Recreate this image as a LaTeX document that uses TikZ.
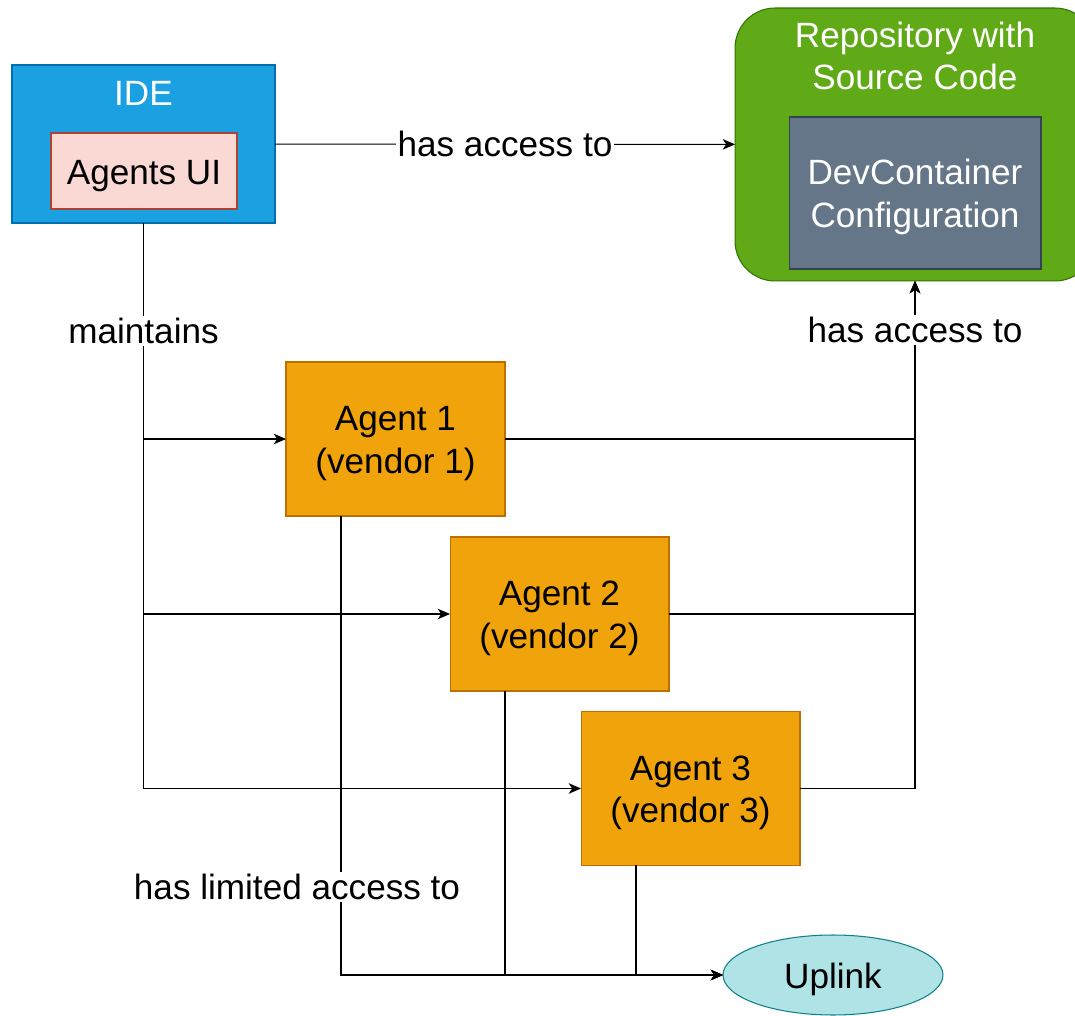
\documentclass[tikz,border=0pt]{standalone}
\usepackage{fontspec}
\setmainfont{Liberation Sans}
\usetikzlibrary{arrows.meta, positioning, shapes.geometric}

\definecolor{ideblue}{HTML}{1BA1E2}
\definecolor{ideline}{HTML}{006EAF}
\definecolor{uipink}{HTML}{FAD9D5}
\definecolor{uiline}{HTML}{AE4132}
\definecolor{repogreen}{HTML}{60A917}
\definecolor{repoline}{HTML}{2D7600}
\definecolor{devgray}{HTML}{647687}
\definecolor{devline}{HTML}{314354}
\definecolor{agentorange}{HTML}{F0A30A}
\definecolor{agentline}{HTML}{BD7000}
\definecolor{uplinkcyan}{HTML}{B0E3E6}
\definecolor{uplinkline}{HTML}{0E8088}

\newcommand{\boxstrut}{\rule{0pt}{19pt}}

\begin{document}
\begin{tikzpicture}[
    x=0.02cm,
    y=-0.02cm,
    font=\fontsize{20}{24}\selectfont,
    >={Stealth[length=7pt,width=6pt,inset=2pt]},
    box/.style={draw, inner sep=0pt, outer sep=0pt, align=center, line width=0.6pt},
    agent/.style={box, fill=agentorange, draw=agentline, minimum width=4.38cm, minimum height=3.08cm},
    title/.style={text=white, align=center},
    conn/.style={->, line width=0.6pt},
    lbl/.style={fill=white, inner sep=1pt},
]
    \useasboundingbox (0,0) rectangle (1075,1016);

    % containers
    \node[box, fill=ideblue, draw=ideline, minimum width=5.26cm, minimum height=3.16cm] (ide) at (143.5,144) {};
    \node[title] (idetitle) at (143.5,93) {IDE};
    \node[box, fill=uipink, draw=uiline, minimum width=3.72cm, minimum height=1.52cm] (ui) at (144,171) {\boxstrut Agents UI};

    \node[box, fill=repogreen, draw=repoline, rounded corners=0.8cm, minimum width=7.2cm, minimum height=5.46cm] (repo) at (915,144.5) {};
    \node[title] (repotitle) at (915,56) {Repository with\\Source Code};
    \node[box, fill=devgray, draw=devline, text=white, minimum width=5.04cm, minimum height=3.04cm] (dev) at (915,193) {\boxstrut DevContainer\\Configuration};

    % agents
    \node[agent] (agent1) at (395.5,439)   {\boxstrut Agent 1\\(vendor 1)};
    \node[agent] (agent2) at (559.5,614)   {\boxstrut Agent 2\\(vendor 2)};
    \node[agent] (agent3) at (690.5,788.5) {\boxstrut Agent 3\\(vendor 3)};

    \node[box, ellipse, draw=uplinkline, fill=uplinkcyan,
          minimum width=4.4cm, minimum height=1.6cm] (uplink) at (833,975) {\boxstrut Uplink};

    % connectors (labelled ones last, so their labels stay on top)
    \draw[conn] (ide) -- node[lbl] {has access to} (repo);

    \draw[conn] (ide) |- (agent2);
    \draw[conn] (ide) |- (agent3);
    \draw[conn] (ide) |- node[lbl, pos=0.25] {maintains} (agent1);

    \draw[conn] (agent2) -| (repo);
    \draw[conn] (agent3) -| (repo);
    \draw[conn] (agent1) -| node[lbl, pos=0.845] {has access to} (repo);

    \draw[conn] ([xshift=-1.09cm]agent2.south) |- (uplink);
    \draw[conn] ([xshift=-1.09cm]agent3.south) |- (uplink);
    \draw[conn] ([xshift=-1.09cm]agent1.south) |- node[lbl, pos=0.404, xshift=-0.88cm] {has limited access to} (uplink);
\end{tikzpicture}
\end{document}
